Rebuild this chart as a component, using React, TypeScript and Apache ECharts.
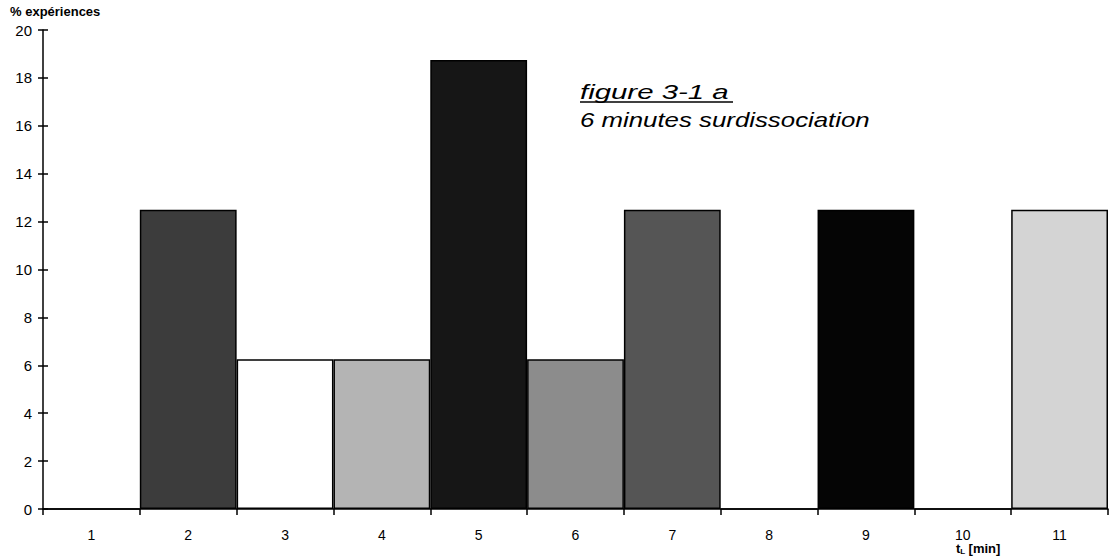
import React, { useEffect, useRef } from "react";
import * as echarts from "echarts";

const categories = ["1", "2", "3", "4", "5", "6", "7", "8", "9", "10", "11"];
const values = [0, 12.5, 6.25, 6.25, 18.75, 6.25, 12.5, 0, 12.5, 0, 12.5];
const barColors = ["#ffffff", "#3c3c3c", "#ffffff", "#b4b4b4", "#161616", "#8c8c8c", "#555555", "#ffffff", "#050505", "#ffffff", "#d4d4d4"];
const yTicks = { min: 0, max: 20, interval: 2 };

export default function App() {
  const ref = useRef<HTMLDivElement>(null);
  useEffect(() => {
    document.body.style.margin = "0";
    if (!ref.current) return;
    const chart = echarts.init(ref.current, null, { renderer: "svg" });
    const font = "Liberation Sans, Arial, sans-serif";
    chart.setOption({
      animation: false,
      backgroundColor: "#ffffff",
      grid: { left: 43, right: 2, top: 30, bottom: 50 },
      xAxis: {
        type: "category",
        data: categories,
        boundaryGap: true,
        axisLine: { lineStyle: { color: "#000", width: 1.5 } },
        axisTick: { show: true, length: 6, lineStyle: { color: "#000", width: 1.5 } },
        axisLabel: { color: "#000", fontSize: 14, fontFamily: font, margin: 19 },
      },
      yAxis: [
        {
          type: "value",
          ...yTicks,
          splitLine: { show: false },
          axisLine: { show: true, lineStyle: { color: "#000", width: 1.5 } },
          axisTick: { show: true, length: 5, lineStyle: { color: "#000", width: 1.5 } },
          axisLabel: { color: "#000", fontSize: 15, fontFamily: font, margin: 11 },
        },
        {
          type: "value",
          position: "left",
          ...yTicks,
          splitLine: { show: false },
          axisLine: { show: false },
          axisTick: { show: true, inside: true, length: 5, lineStyle: { color: "#000", width: 1.5 } },
          axisLabel: { show: false },
        },
      ],
      series: [
        {
          type: "bar",
          data: values.map((v, i) => ({ value: v, itemStyle: { color: barColors[i] } })),
          barCategoryGap: "0%",
          itemStyle: { borderColor: "#000", borderWidth: 1.5 },
        },
      ],
      graphic: [
        {
          type: "text",
          left: 10,
          top: 5,
          style: { text: "% expériences", font: `bold 13px ${font}`, fill: "#000" },
        },
        {
          type: "text",
          x: 580,
          y: 81,
          scaleX: 1.4,
          style: { text: "figure 3-1 a", font: `italic 21px ${font}`, fill: "#000" },
        },
        {
          type: "line",
          shape: { x1: 580, y1: 102, x2: 733, y2: 102 },
          style: { stroke: "#000", lineWidth: 1.5 },
        },
        {
          type: "text",
          x: 580,
          y: 109,
          scaleX: 1.23,
          style: { text: "6 minutes surdissociation", font: `italic 21px ${font}`, fill: "#000" },
        },
        {
          type: "text",
          left: 956,
          top: 542,
          style: {
            text: "{t|t}{s|L} {t|[min]}",
            rich: {
              t: { font: `bold 13px ${font}`, fill: "#000" },
              s: { font: `bold 8px ${font}`, fill: "#000", padding: [6, 0, 0, 0] },
            },
          },
        },
      ],
    });
    return () => chart.dispose();
  }, []);
  return <div ref={ref} style={{ width: 1110, height: 559 }} />;
}
